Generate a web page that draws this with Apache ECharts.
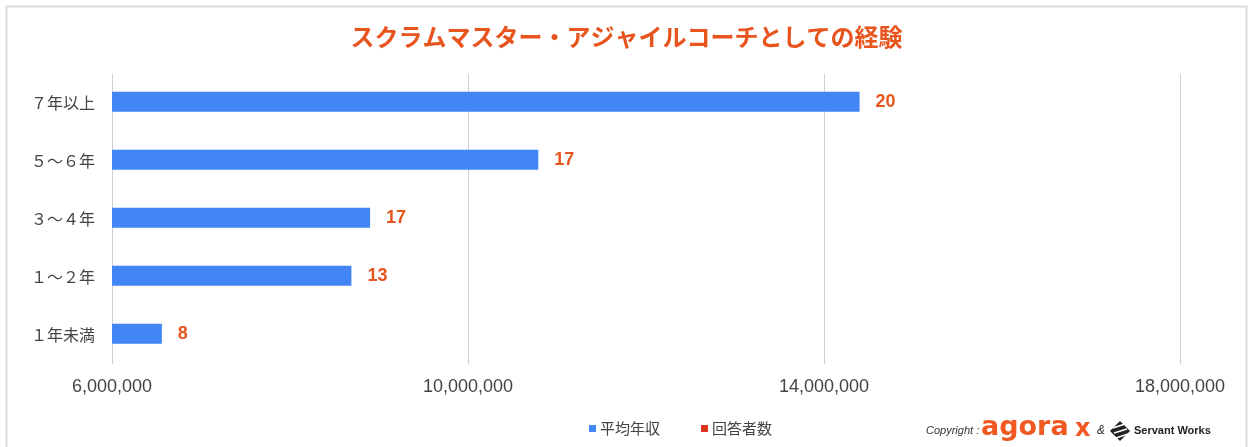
<!DOCTYPE html>
<html>
<head>
<meta charset="utf-8">
<script src="https://cdn.jsdelivr.net/npm/echarts@6/dist/echarts.min.js"></script>
<style>
html,body{margin:0;padding:0;background:#fff;}
#c{width:1253px;height:447px;}
</style>
</head>
<body>
<div id="c"></div>
<script>
const titleText = 'スクラムマスター・アジャイルコーチとしての経験';
const categories = ['７年以上', '５〜６年', '３〜４年', '１〜２年', '１年未満'];
const avgIncome = [14400000, 10790000, 8900000, 8690000, 6560000];
const respondents = [20, 17, 17, 13, 8];
const seriesNames = ['平均年収', '回答者数'];
const xTicks = [6000000, 10000000, 14000000, 18000000];

const FONT = '"Liberation Sans", "Noto Sans CJK JP", sans-serif';
const chart = echarts.init(document.getElementById('c'));
chart.setOption({
  backgroundColor: '#fff',
  animation: false,
  title: {
    text: titleText,
    left: 'center',
    top: 20,
    textStyle: { color: '#e8541e', fontSize: 24, fontWeight: 'bold', fontFamily: '"Noto Sans CJK JP", sans-serif' }
  },
  legend: {
    data: seriesNames,
    left: 584,
    top: 416,
    icon: 'rect',
    itemWidth: 7,
    itemHeight: 7,
    itemGap: 41,
    textStyle: { color: '#444', fontSize: 15, padding: [0, 0, 0, -1], fontFamily: '"Noto Sans CJK JP", sans-serif' }
  },
  grid: { left: 112, right: 73, top: 74, height: 290, containLabel: false },
  xAxis: {
    type: 'value',
    min: xTicks[0],
    max: xTicks[xTicks.length - 1],
    interval: xTicks[1] - xTicks[0],
    axisLine: { show: false },
    axisTick: { show: false },
    splitLine: { show: true, lineStyle: { color: '#d0d0d0', width: 1 } },
    axisLabel: {
      margin: 14,
      color: '#444',
      fontSize: 18,
      fontFamily: FONT,
      formatter: v => v.toLocaleString('en-US')
    }
  },
  yAxis: {
    type: 'category',
    data: categories,
    inverse: true,
    axisLine: { show: false },
    axisTick: { show: false },
    axisLabel: { color: '#444', fontSize: 16, margin: 17, fontFamily: '"Noto Sans CJK JP", sans-serif' }
  },
  series: [
    {
      name: seriesNames[0],
      type: 'bar',
      data: avgIncome,
      barWidth: 20,
      itemStyle: { color: '#4285f4' },
      label: {
        show: true,
        position: 'right',
        distance: 16,
        color: '#e8541e',
        fontWeight: 'bold',
        fontSize: 18,
        fontFamily: FONT,
        formatter: p => String(respondents[p.dataIndex])
      }
    },
    {
      name: seriesNames[1],
      type: 'bar',
      data: [],
      itemStyle: { color: '#dd3522' }
    }
  ],
  graphic: [
    { type: 'rect', shape: { x: 6.5, y: 6.5, width: 1240, height: 450 }, style: { fill: 'none', stroke: '#dcdcdc', lineWidth: 2 }, silent: true },
    { type: 'text', left: 926, top: 425, style: { text: 'Copyright :', font: 'italic 11px "Liberation Sans", sans-serif', fill: '#333' } },
    { type: 'text', left: 981, top: 414, style: { text: 'agora', font: 'bold 27px "DejaVu Sans", sans-serif', fill: '#f05a22' } },
    { type: 'text', left: 1075, top: 418, style: { text: 'x', font: 'bold 24px "DejaVu Sans", sans-serif', fill: '#f05a22' } },
    { type: 'text', left: 1097, top: 425, style: { text: '&', font: 'italic 12px "Liberation Sans", sans-serif', fill: '#333' } },
    { type: 'polygon', shape: { points: [[1120, 421], [1130, 431], [1120, 441], [1110, 431]] }, style: { fill: '#222' } },
    { type: 'line', shape: { x1: 1113, y1: 428, x2: 1125, y2: 424 }, style: { stroke: '#fff', lineWidth: 1.5 } },
    { type: 'line', shape: { x1: 1114, y1: 433, x2: 1127, y2: 429 }, style: { stroke: '#fff', lineWidth: 1.5 } },
    { type: 'line', shape: { x1: 1116, y1: 438, x2: 1128, y2: 434 }, style: { stroke: '#fff', lineWidth: 1.5 } },
    { type: 'text', left: 1134, top: 425, style: { text: 'Servant Works', font: 'bold 11px "Liberation Sans Narrow", "Liberation Sans", sans-serif', fill: '#222' } }
  ]
});
</script>
</body>
</html>
